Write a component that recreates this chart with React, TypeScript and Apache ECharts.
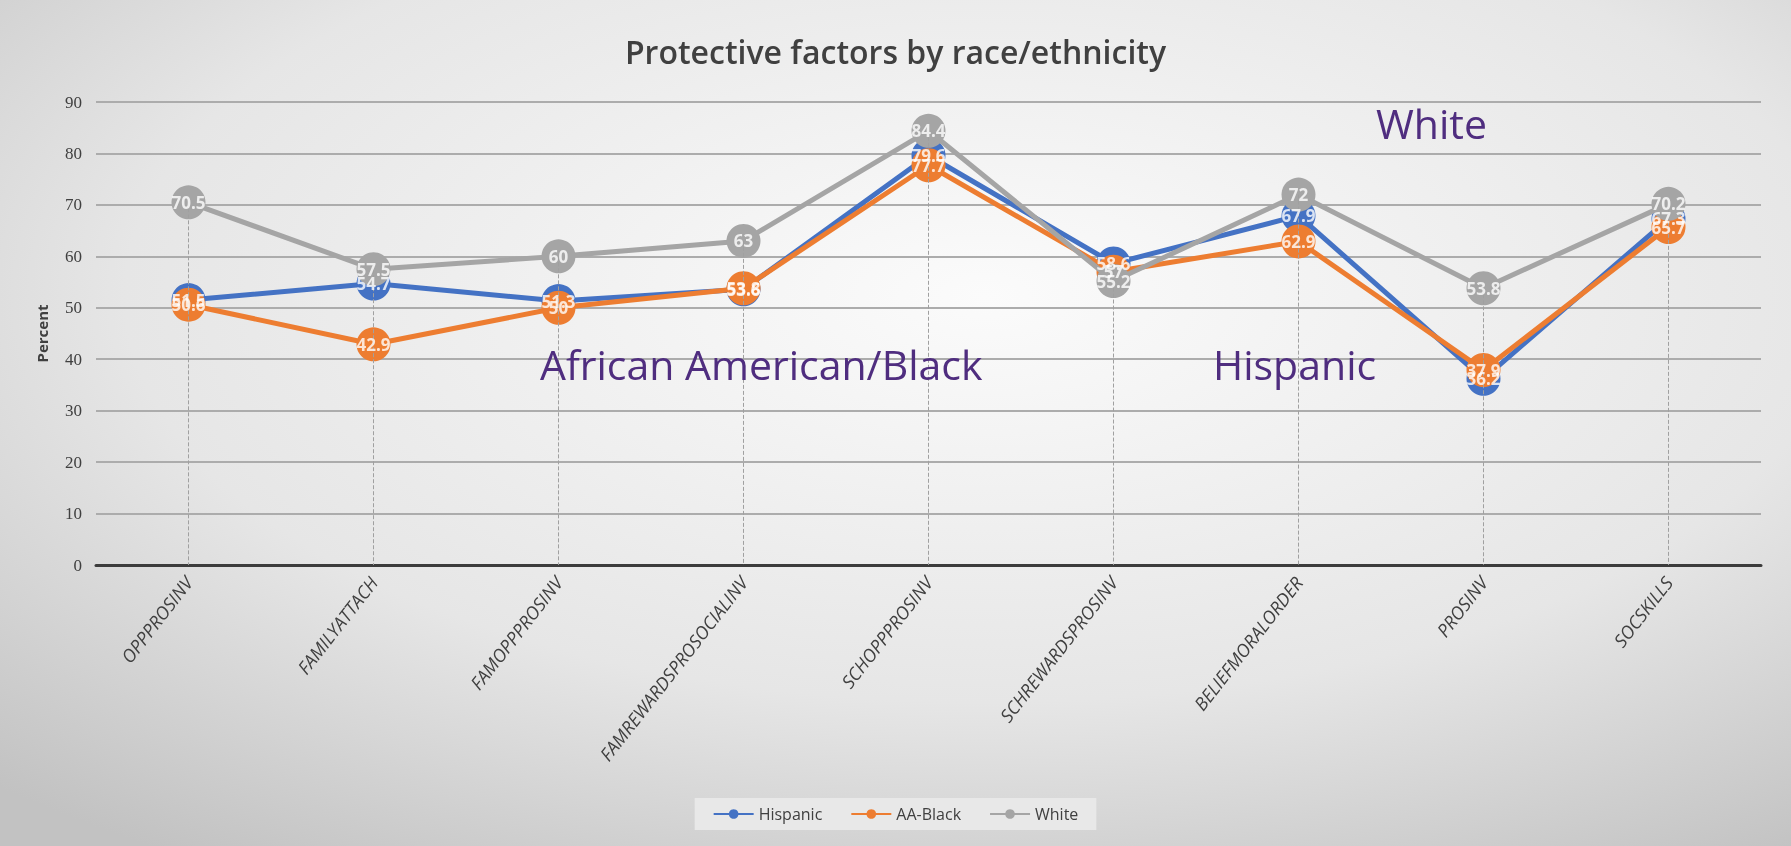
import React, { useEffect, useRef } from "react";
import * as echarts from "echarts";

const categories = [
  "OPPPROSINV",
  "FAMILYATTACH",
  "FAMOPPPROSINV",
  "FAMREWARDSPROSOCIALINV",
  "SCHOPPPROSINV",
  "SCHREWARDSPROSINV",
  "BELIEFMORALORDER",
  "PROSINV",
  "SOCSKILLS",
];
const hispanic = [51.5, 54.7, 51.3, 53.6, 79.6, 58.6, 67.9, 36.2, 67.3];
const aaBlack = [50.6, 42.9, 50, 53.8, 77.7, 57, 62.9, 37.9, 65.7];
const white = [70.5, 57.5, 60, 63, 84.4, 55.2, 72, 53.8, 70.2];
const yTicks = { min: 0, max: 90, interval: 10 };

const seriesDefs = [
  { name: "Hispanic", data: hispanic, color: "#4472c4" },
  { name: "AA-Black", data: aaBlack, color: "#ed7d31" },
  { name: "White", data: white, color: "#a5a5a5" },
];

export default function App() {
  const ref = useRef<HTMLDivElement>(null);
  useEffect(() => {
    if (!ref.current) return;
    const chart = echarts.init(ref.current, undefined, { renderer: "svg" });
    const dropData = categories.map((c, i) => {
      const top = Math.max(hispanic[i], aaBlack[i], white[i]);
      return [{ coord: [c, top] }, { coord: [c, 0] }];
    });
    const annot = (text: string, left: number, top: number) => ({
      type: "text",
      left,
      top,
      z: 20,
      style: { text, fontFamily: "Open Sans", fontSize: 41, fill: "#4f2d7f" },
    });
    chart.setOption({
      animation: false,
      backgroundColor: {
        type: "radial",
        x: 0.55,
        y: 0.35,
        r: 0.8,
        colorStops: [
          { offset: 0, color: "#fbfbfb" },
          { offset: 0.6, color: "#e6e6e6" },
          { offset: 1, color: "#c2c2c2" },
        ],
      },
      title: {
        text: "Protective factors by race/ethnicity",
        left: "center",
        top: 30,
        textStyle: {
          fontFamily: "Open Sans",
          fontSize: 32,
          fontWeight: 600,
          color: "#404040",
        },
      },
      grid: { left: 96, right: 30, top: 102, bottom: 281, containLabel: false },
      legend: {
        bottom: 16,
        left: "center",
        backgroundColor: "#e8e8e8",
        padding: [8, 18],
        itemWidth: 40,
        itemHeight: 12,
        itemGap: 28,
        textStyle: { fontFamily: "Open Sans", fontSize: 16, color: "#404040" },
        data: seriesDefs.map((s) => s.name),
      },
      xAxis: {
        type: "category",
        data: categories,
        boundaryGap: true,
        axisLine: { show: true, lineStyle: { color: "#3c3c3c", width: 3 } },
        axisTick: { show: false },
        axisLabel: {
          rotate: 52,
          margin: 14,
          fontFamily: "Open Sans",
          fontStyle: "italic",
          fontSize: 18,
          color: "#404040",
          interval: 0,
        },
        splitLine: { show: false },
      },
      yAxis: {
        type: "value",
        min: yTicks.min,
        max: yTicks.max,
        interval: yTicks.interval,
        name: "Percent",
        nameLocation: "middle",
        nameGap: 47,
        nameTextStyle: {
          fontFamily: "Open Sans",
          fontWeight: "bold",
          fontSize: 15,
          color: "#404040",
        },
        axisLine: { show: false },
        axisTick: { show: false },
        axisLabel: {
          margin: 14,
          fontFamily: "Liberation Serif",
          fontSize: 17,
          color: "#404040",
        },
        splitLine: { lineStyle: { color: "#acacac", width: 2 } },
      },
      series: [
        {
          name: "drop",
          type: "line",
          data: [],
          z: 1,
          silent: true,
          markLine: {
            silent: true,
            symbol: "none",
            label: { show: false },
            lineStyle: { color: "#a0a0a0", type: "dashed", width: 1 },
            data: dropData,
          },
        },
        ...seriesDefs.map((s, idx) => ({
          name: s.name,
          type: "line",
          data: s.data,
          z: 2 + idx,
          symbol: "circle",
          symbolSize: 34,
          lineStyle: { color: s.color, width: 5 },
          itemStyle: { color: s.color },
          label: { show: false },
        })),
        ...seriesDefs.map((s, idx) => ({
          name: "lbl-" + idx,
          type: "scatter",
          data: s.data,
          z: 10 + idx,
          symbolSize: 1,
          itemStyle: { color: "rgba(0,0,0,0)" },
          silent: true,
          label: {
            show: true,
            position: "inside",
            color: "#ffffff",
            fontFamily: "Open Sans",
            fontWeight: "bold",
            fontSize: 17,
          },
          labelLayout: { hideOverlap: false },
        })),
      ],
      graphic: [
        annot("White", 1376, 102),
        annot("African American/Black", 540, 343),
        annot("Hispanic", 1213, 343),
      ],
    });
    return () => chart.dispose();
  }, []);
  return (
    <div
      ref={ref}
      style={{ position: "fixed", left: 0, top: 0, width: 1791, height: 846 }}
    />
  );
}
